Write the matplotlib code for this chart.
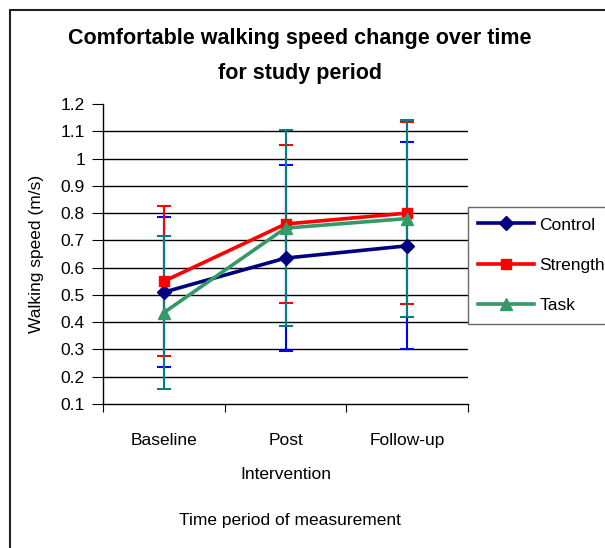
import matplotlib
matplotlib.use("Agg")
from matplotlib import pyplot as plt
from matplotlib.patches import Rectangle

plt.rcParams['font.family'] = ['Liberation Sans', 'DejaVu Sans']

# data
categories = ['Baseline', 'Post\nIntervention', 'Follow-up']
control = [0.51, 0.635, 0.68]
strength = [0.55, 0.76, 0.80]
task = [0.435, 0.745, 0.78]
control_err = [0.275, 0.34, 0.38]
strength_err = [0.275, 0.29, 0.335]
task_err = [0.28, 0.36, 0.36]

x = [0, 1, 2]

fig = plt.figure(figsize=(6.05, 5.48), dpi=100)
ax = fig.add_axes([103 / 605, 1 - 404 / 548, 365 / 605, 300 / 548])

# outer chart border (runs off the right and bottom edge)
fig.patches.append(Rectangle((10 / 605, -0.1), 1.2, 1 - 10 / 548 + 0.1,
                             transform=fig.transFigure, fill=False,
                             edgecolor='#222222', linewidth=1.5))

series = [
    ('Control', control, control_err, '#000080', '#0000ff', 'D', 7),
    ('Strength', strength, strength_err, '#ff0000', '#ff0000', 's', 7.5),
    ('Task', task, task_err, '#339966', '#008080', '^', 9),
]

for name, vals, err, col, ecol, mk, ms in series:
    ax.errorbar(x, vals, yerr=err, fmt='none', ecolor=ecol, elinewidth=1.5,
                capsize=5, capthick=1.5, zorder=3)

handles = []
for name, vals, err, col, ecol, mk, ms in series:
    h, = ax.plot(x, vals, color=col, marker=mk, markersize=ms, linewidth=2.6,
                 label=name, zorder=4)
    handles.append(h)

ax.set_xlim(-0.5, 2.5)
ax.set_ylim(0.1, 1.2)
ax.set_yticks([0.1, 0.2, 0.3, 0.4, 0.5, 0.6, 0.7, 0.8, 0.9, 1.0, 1.1, 1.2])
ax.set_yticklabels(['0.1', '0.2', '0.3', '0.4', '0.5', '0.6', '0.7', '0.8',
                    '0.9', '1', '1.1', '1.2'])
ax.set_xticks([-0.5, 0.5, 1.5, 2.5])
ax.set_xticklabels([])
ax.set_xticks(x, minor=True)
ax.set_xticklabels(categories, minor=True, linespacing=2.6)
ax.tick_params(axis='x', which='minor', length=0, pad=21, labelsize=12.5)
ax.tick_params(axis='x', which='major', length=6, direction='out')
ax.tick_params(axis='y', length=8, direction='out', labelsize=12.5, pad=5)

for v in [0.2, 0.3, 0.4, 0.5, 0.6, 0.7, 0.8, 0.9, 1.0, 1.1]:
    ax.axhline(v, color='black', linewidth=1.0, zorder=1)

for s in ['top', 'right']:
    ax.spines[s].set_visible(False)
ax.spines['left'].set_linewidth(1.0)
ax.spines['bottom'].set_linewidth(1.0)

ax.set_ylabel('Walking speed (m/s)', fontsize=12.5, labelpad=12)
fig.text(290 / 605, 1 - 521 / 548, 'Time period of measurement', ha='center',
         va='center', fontsize=12.5)

fig.text(300 / 605, 1 - 56 / 548, 'Comfortable walking speed change over time\nfor study period',
         ha='center', va='center', fontsize=15.5, fontweight='bold', linespacing=1.9)

leg = fig.legend(handles=handles, loc='upper left',
                 bbox_to_anchor=(468 / 605, 1 - 207 / 548), fontsize=12.5,
                 frameon=True, fancybox=False, borderpad=0.6, labelspacing=1.45,
                 handlelength=3.2, handletextpad=0.3, borderaxespad=0)
leg.get_frame().set_edgecolor('#444444')
leg.get_frame().set_linewidth(1.0)

fig.savefig('out.png', dpi=100)
